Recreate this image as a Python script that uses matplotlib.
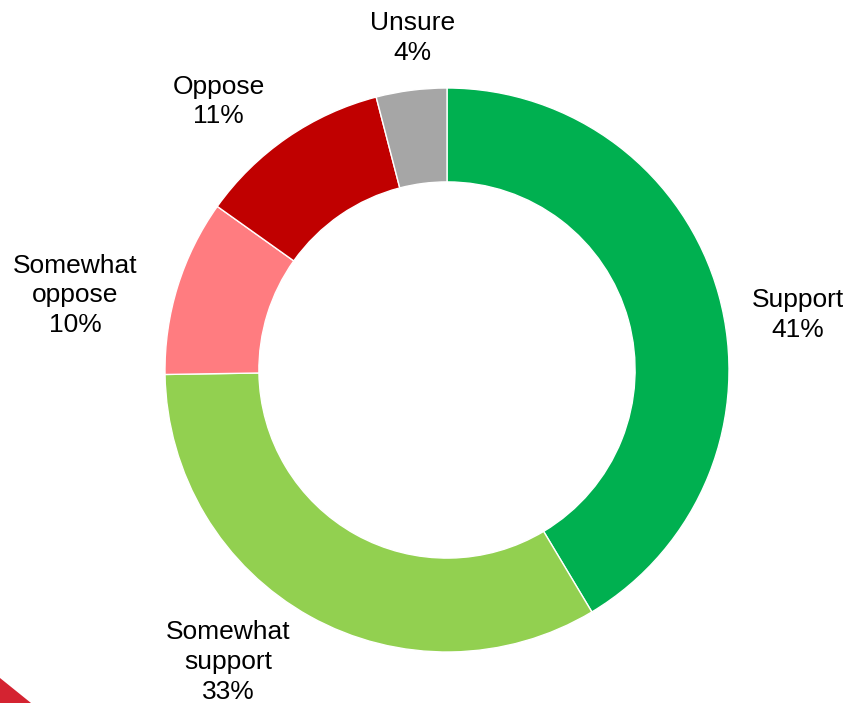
import numpy as np
import matplotlib
matplotlib.use("Agg")
import matplotlib.pyplot as plt
from matplotlib.patches import Polygon

# Survey answers, clockwise from the top
categories = ["Support", "Somewhat\nsupport", "Somewhat\noppose", "Oppose", "Unsure"]
values = [41, 33, 10, 11, 4]
pct_labels = ["41%", "33%", "10%", "11%", "4%"]
colors = ["#00B050", "#92D050", "#FF7C80", "#C00000", "#A6A6A6"]

# label centres in axes data units (radius = 1)
label_pos = [(1.245, 0.194), (-0.777, -1.036), (-1.319, 0.265), (-0.809, 0.952), (-0.121, 1.178)]

plt.rcParams['font.family'] = ['Liberation Sans', 'DejaVu Sans']

W, H = 846, 703
fig = plt.figure(figsize=(W / 100, H / 100), dpi=100)

cx, cy, r = 447, 370, 282
ax = fig.add_axes([(cx - r) / W, (H - cy - r) / H, 2 * r / W, 2 * r / H])
ax.pie(values, colors=colors, startangle=90, counterclock=False, radius=1,
       wedgeprops=dict(width=0.333, edgecolor='white', linewidth=1))
ax.set_xlim(-1, 1)
ax.set_ylim(-1, 1)
ax.set_aspect('equal')
ax.axis('off')

for cat, pct, (x, y) in zip(categories, pct_labels, label_pos):
    ax.text(x, y, cat + "\n" + pct, ha='center', va='center', fontsize=19,
            linespacing=1.3, color='black', clip_on=False)

# red corner decoration at bottom left
fig.patches.append(Polygon([(0, 0), (0, 25 / H), (31 / W, 0)], closed=True,
                           transform=fig.transFigure, facecolor='#D42331',
                           edgecolor='none'))

fig.savefig("out.png", dpi=100)
